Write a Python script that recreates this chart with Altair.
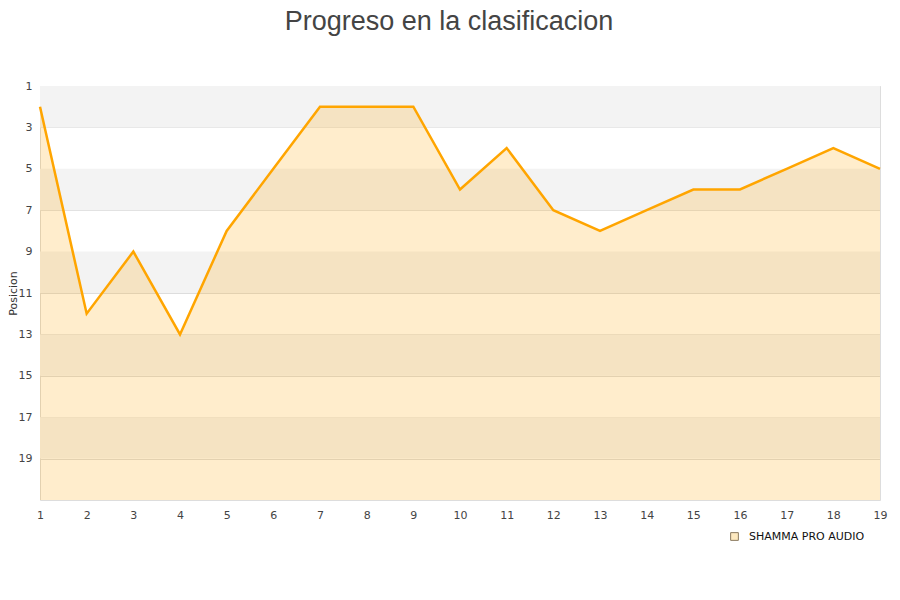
import altair as alt
import pandas as pd

jornadas = list(range(1, 20))
posiciones = [2, 12, 9, 13, 8, 5, 2, 2, 2, 6, 4, 7, 8, 7, 6, 6, 5, 4, 5]
equipo = "SHAMMA PRO AUDIO"
y_ticks = [1, 3, 5, 7, 9, 11, 13, 15, 17, 19]
band_lo = [1, 5, 9, 13, 17]
band_hi = [3, 7, 11, 15, 19]

df = pd.DataFrame({"jornada": jornadas, "pos": posiciones, "equipo": equipo})
bands = pd.DataFrame({"lo": band_lo, "hi": band_hi})

W, H = 840, 414
yscale = alt.Scale(domain=[1, 21], reverse=True, nice=False, zero=False)
xscale = alt.Scale(domain=[1, 19], nice=False, zero=False)

band_layer = alt.Chart(bands).mark_rect(color="#f3f3f3").encode(
    x=alt.value(0), x2=alt.value(W),
    y=alt.Y("lo:Q", scale=yscale,
            axis=alt.Axis(values=y_ticks, title="Posicion", grid=True, gridColor="#dddddd",
                          ticks=False, domain=False, labelPadding=8,
                          titleX=-27, titleY=H / 2, titleAngle=-90, titleAlign="center",
                          titleBaseline="middle",
                          labelFontSize=11, labelColor="#444444", titleFontSize=11,
                          titleColor="#333333", titleFontWeight="normal")),
    y2="hi:Q",
)

area = alt.Chart(df).mark_area(color="#ffa500", opacity=0.2).encode(
    x=alt.X("jornada:Q", scale=xscale,
            axis=alt.Axis(values=jornadas, title=None, grid=False, ticks=False, domain=False,
                          labelPadding=9, labelFontSize=11, labelColor="#444444", format="d",
                          labelFlush=False)),
    y=alt.Y("pos:Q", scale=yscale),
    y2=alt.datum(21),
)

line = alt.Chart(df).mark_line(strokeWidth=2.5, color="#ffa500").encode(
    x=alt.X("jornada:Q", scale=xscale),
    y=alt.Y("pos:Q", scale=yscale),
)

legend_pts = alt.Chart(df).mark_point(shape="square", filled=True, opacity=0).encode(
    x=alt.X("jornada:Q", scale=xscale),
    y=alt.Y("pos:Q", scale=yscale),
    fill=alt.Fill("equipo:N", scale=alt.Scale(range=["#fde9c0"]),
                  legend=alt.Legend(title=None, orient="none", legendX=689, legendY=445,
                                    symbolType="square", symbolStrokeColor="#8a7a60",
                                    symbolStrokeWidth=1, symbolOpacity=1, symbolSize=60,
                                    labelOffset=9, labelFontSize=11, labelColor="#111111",
                                    labelFont="DejaVu Sans")),
)

chart = alt.layer(band_layer, area, line, legend_pts).properties(
    width=W, height=H,
    autosize=alt.AutoSizeParams(type="none"),
    padding={"left": 32, "top": 78, "right": 12, "bottom": 70},
    title=alt.TitleParams("Progreso en la clasificacion", fontSize=27, color="#444444",
                          font="Liberation Sans", fontWeight="normal", anchor="middle",
                          dx=-11, offset=44),
).configure_view(stroke="#dddddd").configure(font="DejaVu Sans")

chart.save("out.html", embed_options={"renderer": "svg", "actions": False})
